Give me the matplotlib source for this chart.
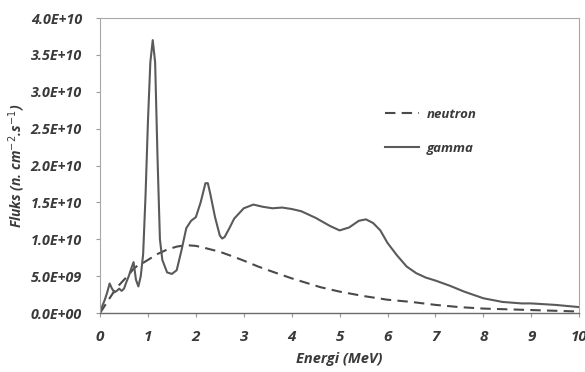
import matplotlib
matplotlib.use("Agg")
import matplotlib.pyplot as plt
from matplotlib.ticker import FuncFormatter

# Data (energy in MeV, flux in n.cm^-2.s^-1)
gamma_E = [0.0, 0.05, 0.1, 0.15, 0.2, 0.25, 0.3, 0.35, 0.4, 0.45, 0.5, 0.55, 0.6, 0.65,
           0.7, 0.75, 0.8, 0.85, 0.9, 0.95, 1.0, 1.05, 1.1, 1.15, 1.2, 1.25, 1.3, 1.4,
           1.5, 1.6, 1.7, 1.8, 1.9, 2.0, 2.1, 2.2, 2.25, 2.3, 2.4, 2.5, 2.55, 2.6, 2.7,
           2.8, 3.0, 3.2, 3.4, 3.6, 3.8, 4.0, 4.2, 4.5, 4.8, 5.0, 5.2, 5.4, 5.55, 5.7,
           5.85, 6.0, 6.2, 6.4, 6.6, 6.8, 7.0, 7.3, 7.6, 8.0, 8.4, 8.8, 9.0, 9.5, 10.0]
gamma_F = [0.0, 0.1, 0.18, 0.28, 0.4, 0.33, 0.28, 0.3, 0.33, 0.3, 0.33, 0.42, 0.5, 0.6,
           0.69, 0.45, 0.36, 0.5, 0.8, 1.6, 2.6, 3.4, 3.7, 3.4, 2.1, 1.0, 0.72, 0.55,
           0.53, 0.58, 0.85, 1.15, 1.25, 1.3, 1.5, 1.76, 1.76, 1.62, 1.3, 1.05, 1.01, 1.03, 1.15,
           1.28, 1.42, 1.47, 1.44, 1.42, 1.43, 1.41, 1.38, 1.29, 1.18, 1.12, 1.16, 1.25, 1.27, 1.22,
           1.12, 0.95, 0.78, 0.63, 0.54, 0.48, 0.44, 0.37, 0.29, 0.20, 0.15, 0.13, 0.13, 0.11, 0.08]
gamma_F = [v * 1e10 for v in gamma_F]

neutron_E = [0.0, 0.1, 0.2, 0.3, 0.4, 0.5, 0.6, 0.7, 0.8, 0.9, 1.0, 1.2, 1.4, 1.6, 1.8,
             2.0, 2.2, 2.5, 2.8, 3.0, 3.3, 3.6, 4.0, 4.3, 4.6, 5.0, 5.5, 6.0, 6.5, 7.0,
             7.5, 8.0, 8.5, 9.0, 9.5, 10.0]
neutron_F = [0.0, 0.1, 0.2, 0.3, 0.38, 0.45, 0.52, 0.6, 0.65, 0.68, 0.72, 0.8, 0.86, 0.9, 0.92,
             0.91, 0.88, 0.83, 0.76, 0.71, 0.63, 0.56, 0.47, 0.41, 0.35, 0.29, 0.23, 0.18, 0.15, 0.11,
             0.08, 0.06, 0.05, 0.04, 0.03, 0.02]
neutron_F = [v * 1e10 for v in neutron_F]

x_ticks = list(range(0, 11))
y_ticks = [i * 0.5e10 for i in range(9)]

fig = plt.figure(figsize=(5.85, 3.72), dpi=100)
ax = fig.add_axes([0.171, 0.1586, 0.819, 0.793])

ax.plot(neutron_E, neutron_F, color="#4a4a4a", lw=1.5, ls=(0, (5, 3)), label="neutron")
ax.plot(gamma_E, gamma_F, color="#5a5a5a", lw=1.5, label="gamma")

ax.set_xlim(0, 10)
ax.set_ylim(0, 4.0e10)
ax.set_xticks(x_ticks)
ax.set_yticks(y_ticks)
ax.yaxis.set_major_formatter(FuncFormatter(lambda v, p: "%.1E" % v))

fam = ["Open Sans", "DejaVu Sans"]
txtc = "#3a3a3a"
for lab in ax.get_yticklabels():
    lab.set_fontfamily(fam); lab.set_fontweight("bold"); lab.set_fontstyle("italic")
    lab.set_fontsize(10.3); lab.set_color(txtc)
for lab in ax.get_xticklabels():
    lab.set_fontfamily(fam); lab.set_fontweight("bold"); lab.set_fontstyle("italic")
    lab.set_fontsize(11); lab.set_color(txtc)

ax.tick_params(axis="both", direction="out", length=3, width=0.8, colors="#9a9a9a",
               labelcolor=txtc)
ax.tick_params(axis="x", pad=9)
ax.tick_params(axis="y", pad=10)

for s in ["top", "right", "left"]:
    ax.spines[s].set_color("#a8a8a8")
    ax.spines[s].set_linewidth(0.8)
ax.spines["bottom"].set_color("#6a6a6a")
ax.spines["bottom"].set_linewidth(1.0)

ax.set_xlabel("Energi (MeV)", fontfamily=fam, fontweight="bold", fontstyle="italic",
              fontsize=10.5, color=txtc, labelpad=6)
ax.set_ylabel("Fluks (n. cm$^{-2}$.s$^{-1}$)", fontfamily=fam, fontweight="bold",
              fontstyle="italic", fontsize=10, color=txtc, labelpad=3)

leg = ax.legend(loc="upper left", bbox_to_anchor=(0.57, 0.735), frameon=False,
                handlelength=2.6, handletextpad=0.6, labelspacing=1.55,
                prop={"family": fam, "weight": "bold", "style": "italic", "size": 9.5})
for t in leg.get_texts():
    t.set_color(txtc)

fig.savefig("out.png", dpi=100, facecolor="white")
